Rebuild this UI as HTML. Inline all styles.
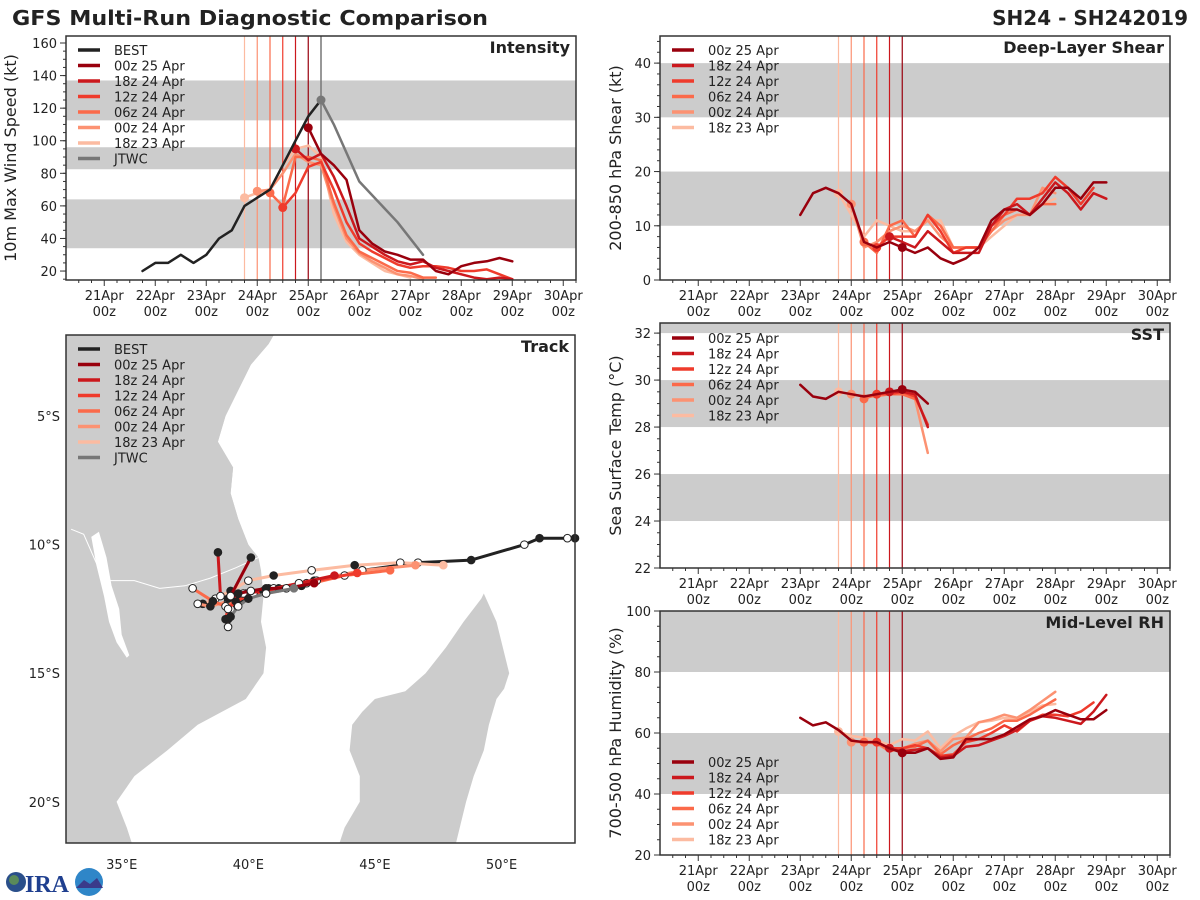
<!DOCTYPE html>
<html><head><meta charset="utf-8"><style>
html,body{margin:0;padding:0;background:#fff;}
svg{display:block;font-family:"DejaVu Sans","Liberation Sans",sans-serif;}
</style></head><body>
<svg id="fig" width="1200" height="900" viewBox="0 0 1200 900" xmlns="http://www.w3.org/2000/svg">
<text x="12" y="25" font-size="20" font-weight="bold" fill="#222" textLength="476" lengthAdjust="spacingAndGlyphs">GFS Multi-Run Diagnostic Comparison</text>
<text x="1188" y="25" font-size="20" font-weight="bold" fill="#222" text-anchor="end">SH24 - SH242019</text>
<g>
<circle cx="16" cy="882" r="10" fill="#2a4f8a"/><circle cx="14" cy="880" r="5" fill="#5a8a5a"/>
<text x="25" y="892" font-size="24" font-weight="bold" fill="#1f3f8f" font-family="Liberation Serif,serif">IRA</text>
<circle cx="89" cy="882" r="14" fill="#2f86c8"/><path d="M76 888 L84 880 L90 884 L97 878 L103 888 Z" fill="#3a3a8a"/>
</g>
</svg>
<script>
const NS="http://www.w3.org/2000/svg";
const svg=document.getElementById('fig');
function mk(tag,attrs,parent){const e=document.createElementNS(NS,tag);for(const k in attrs)e.setAttribute(k,attrs[k]);(parent||svg).appendChild(e);return e;}

const runNames=["00z 25 Apr","18z 24 Apr","12z 24 Apr","06z 24 Apr","00z 24 Apr","18z 23 Apr"];
const runColors=["#99000d","#cb181d","#ef3b2c","#fb6a4a","#fc9272","#fcbba1"];
const runInit=[25.0,24.75,24.5,24.25,24.0,23.75];
const dayTicks=[21,22,23,24,25,26,27,28,29,30];

// Intensity
const bestTimes=[21.75,22,22.25,22.5,22.75,23,23.25,23.5,23.75,24,24.25,24.5,24.75,25,25.25];
const bestVmax=[20,25,25,30,25,30,40,45,60,65,70,85,100,115,125];
const jtwcTimes=[25.25,25.5,26,26.75,27.25];
const jtwcVmax=[125,110,75,50,30];
const intTimes=[
 [25,25.25,25.5,25.75,26,26.25,26.5,26.75,27,27.25,27.5,27.75,28,28.25,28.5,28.75,29],
 [24.75,25,25.25,25.5,25.75,26,26.25,26.5,26.75,27,27.25,27.5,27.75,28,28.25,28.5,28.75,29],
 [24.5,24.75,25,25.25,25.5,25.75,26,26.25,26.5,26.75,27,27.25,27.5,27.75,28,28.25,28.5,28.75,29],
 [24.25,24.5,24.75,25,25.25,25.5,25.75,26,26.25,26.5,26.75,27,27.25,27.5],
 [24,24.25,24.5,24.75,25,25.25,25.5,25.75,26,26.25,26.5,26.75,27,27.25],
 [23.75,24,24.25,24.5,24.75,25,25.25,25.5,25.75,26,26.25,26.5,26.75,27]];
const intVals=[
 [108,92,85,76,45,37,32,30,27,27,20,18,23,25,26,28,26],
 [95,88,92,78,60,40,35,30,26,24,26,22,20,18,16,15,16,15],
 [59,68,84,87,70,50,37,32,28,24,22,23,23,22,20,20,21,18,15],
 [68,60,90,90,88,62,42,32,28,24,20,19,16,16],
 [69,70,80,92,87,85,60,40,31,26,22,18,17,15],
 [65,68,70,85,95,97,90,55,38,30,25,20,18,16]];

// Shear
const shearTimes=[
 [23,23.25,23.5,23.75,24,24.25,24.5,24.75,25,25.25,25.5,25.75,26,26.25,26.5,26.75,27,27.25,27.5,27.75,28,28.25,28.5,28.75,29],
 [24.75,25,25.25,25.5,25.75,26,26.25,26.5,26.75,27,27.25,27.5,27.75,28,28.25,28.5,28.75,29],
 [24.5,24.75,25,25.25,25.5,25.75,26,26.25,26.5,26.75,27,27.25,27.5,27.75,28,28.25,28.5,28.75],
 [24.25,24.5,24.75,25,25.25,25.5,25.75,26,26.25,26.5,26.75,27,27.25,27.5,27.75,28],
 [24,24.25,24.5,24.75,25,25.25,25.5,25.75,26,26.25,26.5,26.75,27,27.25,27.5,27.75,28],
 [23.75,24,24.25,24.5,24.75,25,25.25,25.5,25.75,26,26.25,26.5,26.75,27,27.25,27.5,27.75,28]];
const shearVals=[
 [12,16,17,16,14,7,6,7,6,5,6,4,3,4,6,11,13,13,12,14,17,17,15,18,18],
 [8,7,6,9,7,5,5,5,10,13,14,12,15,18,16,13,16,15],
 [6,8,8,8,12,9,5,6,6,10,12,15,15,16,19,17,14,17],
 [7,5,10,11,8,12,10,6,6,6,9,12,13,12,14,14],
 [14,6,7,9,10,9,11,8,6,6,6,9,11,12,12,17,16],
 [16,12,8,11,10,9,9,11,11,6,6,6,8,10,12,12,14,15]];

// SST
const sstTimes=[
 [23,23.25,23.5,23.75,24,24.25,24.5,24.75,25,25.25,25.5],
 [24.75,25,25.25,25.5],
 [24.5,24.75,25,25.25,25.5],
 [24.25,24.5,24.75,25,25.25],
 [24,24.25,24.5,24.75,25,25.25,25.5],
 [23.75,24,24.25,24.5,24.75,25,25.25]];
const sstVals=[
 [29.8,29.3,29.2,29.5,29.4,29.3,29.4,29.5,29.6,29.5,29.0],
 [29.5,29.5,29.4,28.0],
 [29.4,29.4,29.5,29.3,28.1],
 [29.2,29.4,29.4,29.4,29.2],
 [29.4,29.3,29.3,29.4,29.4,29.2,26.9],
 [29.5,29.4,29.3,29.4,29.4,29.4,29.3]];

// RH
const rhTimes=[
 [23,23.25,23.5,23.75,24,24.25,24.5,24.75,25,25.25,25.5,25.75,26,26.25,26.5,26.75,27,27.25,27.5,27.75,28,28.25,28.5,28.75,29],
 [24.75,25,25.25,25.5,25.75,26,26.25,26.5,26.75,27,27.25,27.5,27.75,28,28.25,28.5,28.75,29],
 [24.5,24.75,25,25.25,25.5,25.75,26,26.25,26.5,26.75,27,27.25,27.5,27.75,28,28.25,28.5,28.75],
 [24.25,24.5,24.75,25,25.25,25.5,25.75,26,26.25,26.5,26.75,27,27.25,27.5,27.75,28],
 [24,24.25,24.5,24.75,25,25.25,25.5,25.75,26,26.25,26.5,26.75,27,27.25,27.5,27.75,28],
 [23.75,24,24.25,24.5,24.75,25,25.25,25.5,25.75,26,26.25,26.5,26.75,27,27.25,27.5,27.75,28]];
const rhVals=[
 [65,62.5,63.5,61,57.5,57,57,55,53.5,53.5,55,51.5,52,58,58,58,59.5,62,64.5,65.5,67.5,66,64.5,64.5,67.5],
 [55,54,54.5,55,52,52.5,55.5,56,57.5,59,61,64,65.5,65,64,63,67,72.5],
 [57,55,55,56,55,52.5,53,57,58,60,62.5,60.5,64,66,66,65.5,67,70],
 [57,57,54,55,55.5,57.5,53,56,58,60,61.5,64,64,66,68.5,71],
 [57,57,56.5,54,55,56.5,57.5,54,58,58.5,63.5,64.5,66,65,67.5,70.5,73.5],
 [60.5,59,58.5,57.5,56,58,57.5,60.5,55,59,61.5,63.5,64,65,64.5,67,69,69.5]];

// Track (lon, lat)
const bestLon=[52.9,52.6,51.5,50.9,48.8,46.7,44.5,42.3,40.8,40.0,39.5,39.3,39.2];
const bestLat=[-9.75,-9.75,-9.75,-10.0,-10.6,-10.7,-11.0,-11.5,-11.7,-11.9,-12.1,-12.5,-12.9];
const jtwcLon=[41.8,40.7,40.0,39.6,39.3];
const jtwcLat=[-11.7,-11.9,-12.1,-12.4,-12.8];
const trkLon=[
 [42.6,41.5,40.7,40.1,39.6,39.3,40.1],
 [43.4,42.0,40.6,39.8,39.2,38.9,38.8],
 [44.3,42.7,41.2,40.2,39.5,39.2,39.1,39.2],
 [45.6,43.8,42.1,40.7,39.7,39.1,38.6,37.8],
 [46.6,44.5,42.6,41.0,39.9,39.2,38.5,38.0],
 [47.7,46.0,44.2,42.5,41.0,40.0,39.3,38.7,38.2]];
const trkLat=[
 [-11.5,-11.7,-11.7,-11.8,-11.9,-12.0,-10.5],
 [-11.2,-11.5,-11.8,-11.9,-12.1,-12.0,-10.3],
 [-11.1,-11.4,-11.7,-11.9,-12.2,-12.5,-12.9,-13.2],
 [-11.0,-11.2,-11.6,-11.9,-12.1,-12.4,-12.2,-11.7],
 [-10.8,-11.0,-11.4,-11.7,-11.9,-12.2,-12.4,-12.3],
 [-10.8,-10.7,-10.8,-11.0,-11.2,-11.4,-11.8,-12.1,-12.3]];
const lonTicks=[35,40,45,50];
const latTicks=[-5,-10,-15,-20];

const seaLon=[41.0,52.9,52.9,35.4,35.2,34.8,35.5,36.8,38.0,39.9,40.6,40.7,40.5,40.6,40.5,40.4,40.0,39.6,39.3,39.4,38.8,39.1,39.6,40.1,40.8];
const seaLat=[-1.85,-1.85,-21.6,-21.6,-21,-20,-19,-18,-17,-16,-15,-14,-13,-12,-11,-10.5,-10,-9,-8,-7,-6,-5,-4,-3,-2.2];
const madLon=[49.3,49.8,50.3,50.1,49.8,49.5,49.3,48.9,48.6,48.2,43.6,43.8,44.4,44.4,44.0,44.1,44.5,45.0,46.2,47.0,47.8,48.5,49.2];
const madLat=[-11.9,-13,-15,-15.6,-16,-17,-18,-19,-20,-21.6,-21.6,-21,-20,-19,-18,-17,-16.5,-16,-15.7,-15,-14,-13,-12.1];
const lakeLon=[34.1,34.4,34.6,34.9,35.0,35.3,35.2,34.8,34.5,34.3,34.0,33.8];
const lakeLat=[-9.5,-10.5,-11.6,-12.5,-13.5,-14.3,-14.4,-13.8,-13.0,-12.0,-10.8,-9.7];
const tzLon=[32.8,41.0,40.8,40.1,39.6,39.1,38.8,39.4,39.3,39.6,40.0,40.2,34.0,32.8];
const tzLat=[-1.85,-1.85,-2.2,-3,-4,-5,-6,-7,-8,-9,-10,-10.3,-9.4,-9.3];

function timeAxes(px0,px1,py0,py1,ylo,yhi){
  const sx=t=>px0+(t-20.25)/(30.25-20.25)*(px1-px0);
  const sy=v=>py1-(v-ylo)/(yhi-ylo)*(py1-py0);
  return {sx,sy};
}
function frameAndTicks(g,name,px0,px1,py0,py1,sx,sy,yticks,yminor){
  const fr=mk('rect',{x:px0,y:py0,width:px1-px0,height:py1-py0,fill:'none',stroke:'#333','stroke-width':1.5},g);
  
  
  const xa=mk('g',{},g);
  
  
  for(let t=20.5;t<=30.25;t+=0.25){const x=sx(t);const major=Math.abs(t-Math.round(t))<1e-6;
    mk('line',{x1:x,x2:x,y1:py1,y2:py1+(major?6:3),stroke:'#333','stroke-width':1},xa);}
  dayTicks.forEach(d=>{const x=sx(d);
    const tx=mk('text',{x:x,y:py1+20,'font-size':13,'text-anchor':'middle',fill:'#222'},xa);tx.textContent=d+'Apr';
    const tz=mk('text',{x:x,y:py1+36,'font-size':13,'text-anchor':'middle',fill:'#222'},xa);tz.textContent='00z';});
  const ya=mk('g',{},g);
  
  
  yminor.forEach(v=>{const y=sy(v);if(y<py0-0.5||y>py1+0.5)return;mk('line',{x1:px0-3,x2:px0,y1:y,y2:y,stroke:'#333'},ya);});
  yticks.forEach(v=>{const y=sy(v);mk('line',{x1:px0-6,x2:px0,y1:y,y2:y,stroke:'#333'},ya);
    const tx=mk('text',{x:px0-9,y:y+5,'font-size':13,'text-anchor':'end',fill:'#222'},ya);tx.textContent=v;});
}
function bands(g,px0,px1,py0,py1,sy,bnds){
  bnds.forEach(b=>{let ya=Math.max(sy(b[1]),py0),yb=Math.min(sy(b[0]),py1);
    const r=mk('rect',{x:px0,y:ya,width:px1-px0,height:yb-ya,fill:'#cccccc'},g);
    
    });
}
function polyline(g,xs,ys,sx,sy,color,w){
  const pts=xs.map((x,i)=>sx(x).toFixed(1)+','+sy(ys[i]).toFixed(1)).join(' ');
  return mk('polyline',{points:pts,fill:'none',stroke:color,'stroke-width':w,'stroke-linejoin':'round','stroke-linecap':'round'},g);
}
function legend(g,x,y,entries,spacing){
  const lg=mk('g',{},g);
  
  
  entries.forEach((e,i)=>{const yy=y+i*spacing;
    const eg=mk('g',{},lg);
    
    
    mk('line',{x1:x,x2:x+22,y1:yy,y2:yy,stroke:e[1],'stroke-width':3.5},eg);
    const t=mk('text',{x:x+36,y:yy+5,'font-size':13,fill:'#222'},eg);t.textContent=e[0];});
}
function panelTitle(g,px1,py0,txt){
  const t=mk('text',{x:px1-6,y:py0+17,'font-size':16,'font-weight':'bold','text-anchor':'end',fill:'#222'},g);t.textContent=txt;
  
  
}
function yLabel(g,x,cy,txt){
  const t=mk('text',{x:0,y:0,'font-size':16,'text-anchor':'middle',fill:'#222',transform:`translate(${x},${cy}) rotate(-90)`},g);t.textContent=txt;
  
  
}
function range(a,b,s){const r=[];for(let v=a;v<=b+1e-9;v+=s)r.push(+v.toFixed(3));return r;}

function timePanel(cfg){
  const g=mk('g',{});
  
  
  const {sx,sy}=timeAxes(cfg.x0,cfg.x1,cfg.y0,cfg.y1,cfg.ylo,cfg.yhi);
  bands(g,cfg.x0,cfg.x1,cfg.y0,cfg.y1,sy,cfg.bands);
  runInit.forEach((t,i)=>{const vl=mk('line',{x1:sx(t),x2:sx(t),y1:cfg.y0,y2:cfg.y1,stroke:runColors[i],'stroke-width':1.2},g);
    
    });
  if(cfg.jtwcLine){const vl=mk('line',{x1:sx(25.25),x2:sx(25.25),y1:cfg.y0,y2:cfg.y1,stroke:'#777','stroke-width':1.5},g);
    
    }
  for(let i=5;i>=0;i--){
    const pl=polyline(g,cfg.times[i],cfg.vals[i],sx,sy,runColors[i],2.5);
    
    
    const k=cfg.times[i].indexOf(runInit[i]);
    if(k>=0){const c=mk('circle',{cx:sx(runInit[i]),cy:sy(cfg.vals[i][k]),r:4.5,fill:runColors[i]},g);
      
      }
  }
  if(cfg.extra)cfg.extra(g,sx,sy);
  frameAndTicks(g,cfg.name,cfg.x0,cfg.x1,cfg.y0,cfg.y1,sx,sy,cfg.yticks,cfg.yminor);
  legend(g,cfg.x0+12,cfg.legY,cfg.legend,15.5);
  panelTitle(g,cfg.x1,cfg.y0,cfg.title);
  yLabel(g,cfg.labX,(cfg.y0+cfg.y1)/2,cfg.ylabel);
}
const runLeg=runNames.map((n,i)=>[n,runColors[i]]);

timePanel({name:'intensity',x0:66,x1:576,y0:36,y1:280,ylo:14.5,yhi:164.3,bands:[[34,64],[82.5,96],[112.5,137]],
  times:intTimes,vals:intVals,jtwcLine:true,yticks:[20,40,60,80,100,120,140,160],yminor:range(15,160,5),
  legend:[['BEST','#222']].concat(runLeg,[['JTWC','#777']]),legY:50,title:'Intensity',labX:16,ylabel:'10m Max Wind Speed (kt)',
  extra:(g,sx,sy)=>{
    const j=polyline(g,jtwcTimes,jtwcVmax,sx,sy,'#777',2.5);
    
    
    const b=polyline(g,bestTimes,bestVmax,sx,sy,'#222',2.5);
    
    
    const c=mk('circle',{cx:sx(jtwcTimes[0]),cy:sy(jtwcVmax[0]),r:4.5,fill:'#777'},g);
    
    
  }});
timePanel({name:'shear',x0:660,x1:1170,y0:36,y1:280,ylo:0,yhi:45,bands:[[10,20],[30,40]],
  times:shearTimes,vals:shearVals,yticks:[0,10,20,30,40],yminor:range(0,44,2),
  legend:runLeg,legY:50,title:'Deep-Layer Shear',labX:621,ylabel:'200-850 hPa Shear (kt)'});
timePanel({name:'sst',x0:660,x1:1170,y0:323,y1:568,ylo:22,yhi:32.43,bands:[[24,26],[28,30],[32,34]],
  times:sstTimes,vals:sstVals,yticks:[22,24,26,28,30,32],yminor:range(22,32.4,0.5),
  legend:runLeg,legY:338,title:'SST',labX:621,ylabel:'Sea Surface Temp (°C)'});
timePanel({name:'rh',x0:660,x1:1170,y0:611,y1:855,ylo:20,yhi:100,bands:[[40,60],[80,100]],
  times:rhTimes,vals:rhVals,yticks:[20,40,60,80,100],yminor:range(20,100,5),
  legend:runLeg,legY:762,title:'Mid-Level RH',labX:621,ylabel:'700-500 hPa Humidity (%)'});

// Track panel
(function(){
  const x0=66,x1=575,y0=335,y1=843;
  const sx=lon=>x0+(lon-32.8)/(52.9-32.8)*(x1-x0);
  const sy=lat=>y0+(-1.85-lat)/(21.6-1.85)*(y1-y0);
  const g=mk('g',{});
  
  
  const land=mk('rect',{x:x0,y:y0,width:x1-x0,height:y1-y0,style:'fill:#cccccc'},g);
  
  
  const poly=(lons,lats,fill,name)=>{const p=mk('path',{d:'M'+lons.map((l,i)=>sx(l).toFixed(1)+' '+sy(lats[i]).toFixed(1)).join(' L')+' Z',style:'fill:'+fill+';stroke:none'},g);
    
    };
  poly(seaLon,seaLat,'#ffffff','indian-ocean');
  poly(tzLon,tzLat,'#cccccc','tanzania-land');
  poly(madLon,madLat,'#cccccc','madagascar-land');
  poly(lakeLon,lakeLat,'#ffffff','lake-malawi');
  const border=(pts)=>{const p=mk('polyline',{points:pts.map(q=>sx(q[0]).toFixed(1)+','+sy(q[1]).toFixed(1)).join(' '),style:'fill:none;stroke:#ffffff;stroke-width:1'},g);
    
    };
  border([[33.0,-9.4],[33.5,-9.6],[34.3,-11.4],[35.5,-11.4],[36.5,-11.7],[37.5,-11.6],[38.5,-11.3],[39.5,-10.9],[40.4,-10.5]]);
  const track=(lons,lats,color,name,startColor)=>{
    const pl=polyline(g,lons,lats,sx,sy,color,3);
    
    
    lons.forEach((l,i)=>{const c=mk('circle',{cx:sx(l),cy:sy(lats[i]),r:3.8,fill:i===0&&startColor?startColor:(i%2?'#fff':'#222'),stroke:i===0&&startColor?startColor:'#222','stroke-width':1},g);
      
      });
  };
  track(bestLon,bestLat,'#222','best-track',null);
  for(let i=5;i>=0;i--)track(trkLon[i],trkLat[i],runColors[i],'track-'+runNames[i].replace(/ /g,'-').toLowerCase(),runColors[i]);
  track(jtwcLon,jtwcLat,'#777','jtwc-track','#777');
  mk('rect',{x:x0,y:y0,width:x1-x0,height:y1-y0,fill:'none',stroke:'#333','stroke-width':1.5},g);
  lonTicks.forEach(l=>{const t=mk('text',{x:sx(l),y:y1+26,'font-size':13,'text-anchor':'middle',fill:'#222'},g);t.textContent=l+'°E';
    
    });
  latTicks.forEach(l=>{const t=mk('text',{x:x0-6,y:sy(l)+5,'font-size':13,'text-anchor':'end',fill:'#222'},g);t.textContent=(-l)+'°S';
    
    });
  legend(g,x0+12,y0+14,[['BEST','#222']].concat(runLeg,[['JTWC','#777']]),15.5);
  panelTitle(g,x1,y0,'Track');
})();
</script>
</body></html>
